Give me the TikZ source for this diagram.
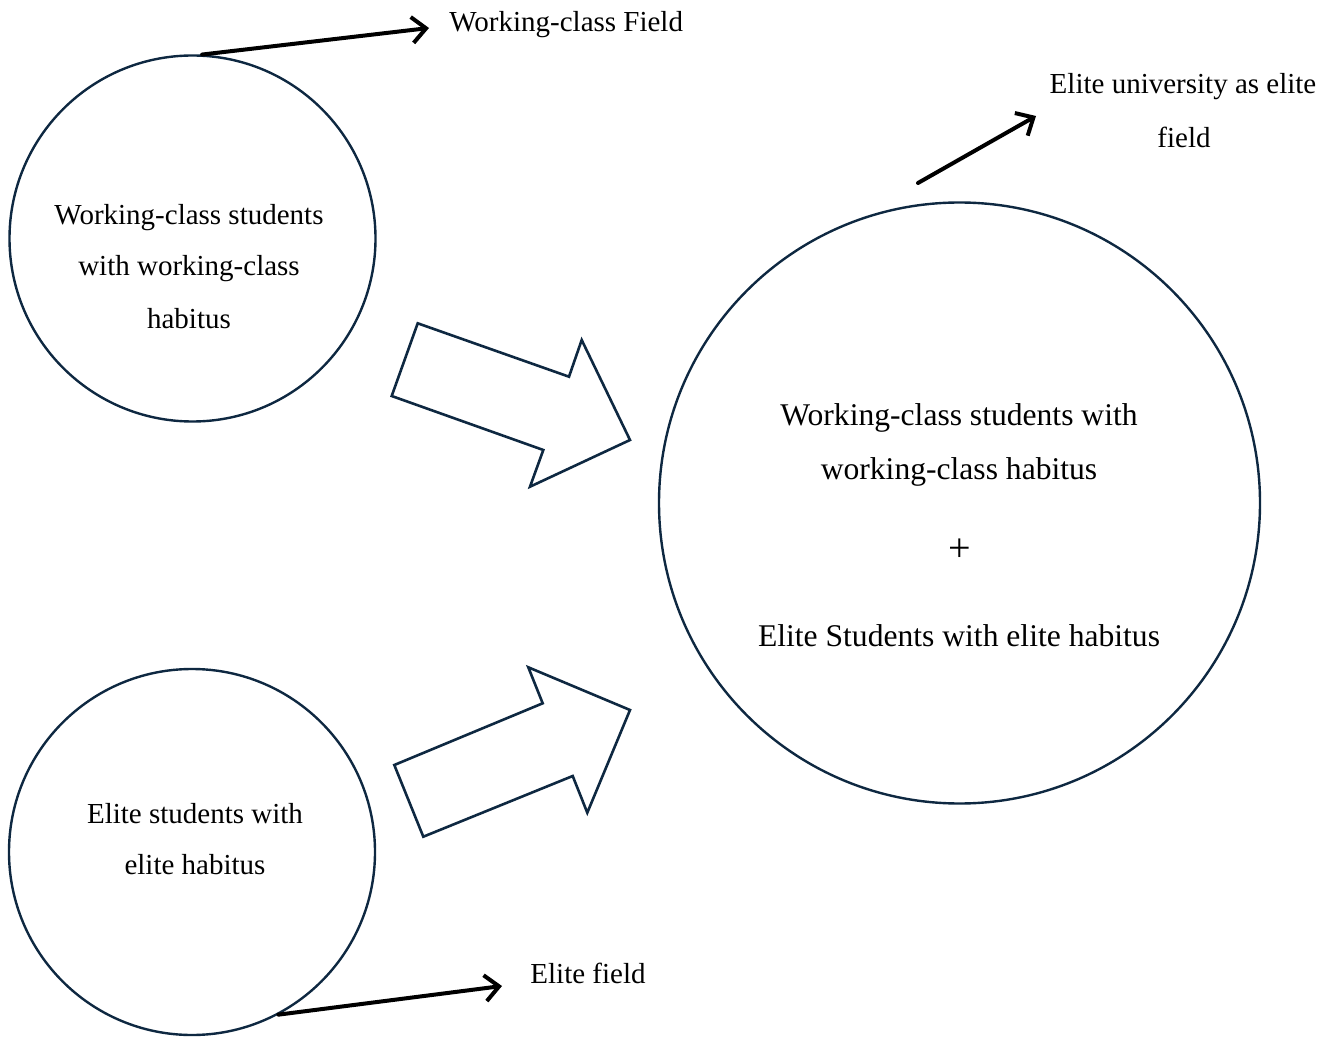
\documentclass[tikz,border=0pt]{standalone}
\usepackage{fontspec}
\setmainfont{Liberation Serif}
\usetikzlibrary{arrows.meta}
\definecolor{navy}{HTML}{0E2841}
\tikzset{
  ring/.style={draw=navy, line width=1.2pt, circle, inner sep=0pt},
  blockarrow/.style={draw=navy, line width=1.3pt, line join=miter},
  thinarrow/.style={draw=black, line width=2pt, line cap=round, -{Straight Barb[length=7pt,width=13pt,line width=2pt]}},
  txt/.style={font=\fontsize{14.5pt}{25pt}\selectfont, inner sep=0pt, align=center},
  bigtxt/.style={font=\fontsize{15.8pt}{27pt}\selectfont, inner sep=0pt, align=center}
}
\begin{document}
\begin{tikzpicture}[x=0.5pt,y=-0.5pt]
\useasboundingbox (0,0) rectangle (1338,1037);
% circles
\node[ring, minimum size=183pt] (c1) at (192.5,238.5) {};
\node[ring, minimum size=183pt] (c2) at (192,852) {};
\node[ring, minimum size=300.5pt] (c3) at (959.5,503) {};
% circle texts
\node[txt] (t1a) at (189,218) {Working-class students};
\node[txt] (t1b) at (189,269) {with working-class};
\node[txt] (t1c) at (189,319) {habitus};
\node[txt] (t2a) at (195,814) {Elite students with};
\node[txt] (t2b) at (195,865) {elite habitus};
\node[bigtxt] (t3a) at (959,418) {Working-class students with};
\node[bigtxt] (t3b) at (959,472) {working-class habitus};
\node[bigtxt, font=\fontsize{20pt}{24pt}\selectfont] (t3c) at (959.5,550) {+};
\node[bigtxt] (t3d) at (959,636) {Elite Students with elite habitus};
% labels
\node[txt, anchor=west] (l1) at (449,25) {Working-class Field};
\node[txt, anchor=west] (l2) at (530,973) {Elite field};
\node[txt] (l3) at (1183,87) {Elite university as elite};
\node[txt] (l3b) at (1184,137) {field};
% thin arrows
\coordinate (e1) at (429,28);
\coordinate (e2) at (502,986);
\coordinate (s3) at (918,183);
\coordinate (e3) at (1036,116);
\draw[thinarrow] (c1.87) -- (e1);
\draw[thinarrow] (c2.-62) -- (e2);
\draw[thinarrow] (s3) -- (e3);
% block arrows
\draw[blockarrow] (417.7,323.3) -- (569,376.7) -- (581.7,340) -- (630,440) -- (530,486.7) -- (543.3,450) -- (391.7,396) -- cycle;
\draw[blockarrow] (394.3,765) -- (542.7,703.3) -- (528.3,667.3) -- (630,710) -- (587.3,812.7) -- (572.7,776) -- (423.3,836.7) -- cycle;
\end{tikzpicture}
\end{document}
